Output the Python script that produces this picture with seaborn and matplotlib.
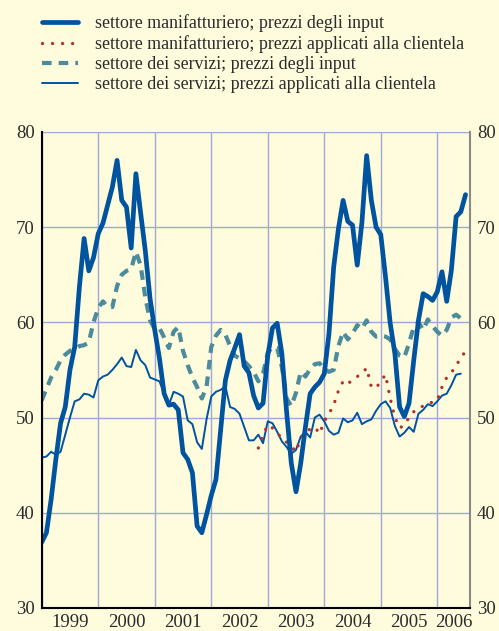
import numpy as np
import pandas as pd
import seaborn as sns
import matplotlib.pyplot as plt
from matplotlib.lines import Line2D

# monthly data, Jan 1999 - Jul 2006
mfg_input = [36.9, 37.9, 41.4, 45.6, 49.4, 51.1, 55.0, 57.4, 63.7, 68.8,
             65.4, 66.8, 69.3, 70.4, 72.3, 74.2, 77.0, 72.8, 72.1, 67.8,
             75.6, 71.5, 67.5, 62.5, 59.2, 56.2, 52.5, 51.3, 51.4, 50.8,
             46.3, 45.6, 44.2, 38.6, 37.9, 39.8, 41.8, 43.5, 48.7, 53.9,
             56.0, 57.3, 58.7, 55.4, 54.7, 52.3, 51.0, 51.5, 56.5, 59.4,
             59.9, 56.7, 50.6, 45.2, 42.2, 45.2, 49.0, 52.5, 53.2, 53.7,
             54.6, 58.8, 65.8, 69.8, 72.8, 70.6, 70.2, 66.0, 70.5, 77.5,
             72.8, 70.0, 69.2, 64.8, 59.9, 56.7, 51.1, 50.1, 51.5, 56.0,
             60.2, 63.0, 62.7, 62.3, 63.2, 65.3, 62.2, 65.5, 71.1, 71.6, 73.4]

mfg_output = [np.nan] * 46 + [
             46.8, 48.2, 49.2, 48.9, 48.4, 47.8, 47.4, 47.0, 46.4, 47.8,
             48.3, 48.8, 49.0, 48.3, 49.6, 50.4, 51.3, 52.8, 53.8, 53.5,
             54.0, 54.3, 54.6, 55.2, 53.2, 53.1, 53.8, 54.5, 52.0, 50.0,
             48.9, 49.2, 50.0, 50.6, 51.0, 51.2, 51.5, 51.6, 51.8, 53.2,
             54.2, 54.7, 55.5, 56.2, 57.0]

serv_input = [51.8, 53.0, 54.2, 55.0, 56.0, 56.6, 57.0, 57.2, 57.5, 57.6,
              57.9, 60.0, 61.5, 62.2, 61.6, 61.6, 63.8, 65.0, 65.4, 65.6,
              67.4, 66.0, 62.6, 60.2, 59.3, 59.4, 58.4, 57.3, 59.0, 59.5,
              57.0, 55.5, 54.2, 53.2, 52.0, 53.2, 57.4, 58.6, 59.2, 58.7,
              57.5, 56.5, 56.2, 55.9, 55.4, 54.8, 53.8, 54.6, 56.8, 57.4,
              57.3, 55.3, 52.0, 51.2, 52.6, 54.8, 54.3, 55.1, 55.6, 55.7,
              55.1, 54.8, 55.0, 57.5, 59.0, 58.2, 58.8, 59.7, 59.3, 60.2,
              59.0, 58.5, 58.6, 58.5, 58.2, 57.2, 56.5, 56.3, 57.8, 59.5,
              60.0, 59.2, 60.3, 59.6, 59.0, 58.6, 59.2, 60.5, 60.8, 60.4, np.nan]

serv_output = [45.8, 45.9, 46.4, 46.1, 46.4, 48.2, 50.0, 51.7, 51.9, 52.5,
               52.4, 52.1, 53.9, 54.3, 54.5, 55.0, 55.6, 56.3, 55.4, 55.3,
               57.1, 56.0, 55.5, 54.2, 54.0, 53.8, 52.5, 51.3, 52.7, 52.5,
               52.2, 49.7, 49.3, 47.4, 46.7, 49.8, 52.2, 52.7, 52.9, 53.3,
               51.1, 50.9, 50.4, 49.0, 47.6, 47.6, 48.2, 47.3, 49.6, 49.4,
               48.5, 47.5, 46.9, 46.2, 46.6, 48.0, 48.5, 47.9, 50.0, 50.3,
               49.6, 48.6, 48.2, 48.4, 49.9, 49.5, 49.7, 50.5, 49.3, 49.6,
               49.8, 50.7, 51.4, 51.7, 51.0, 49.1, 48.0, 48.4, 49.0, 48.5,
               50.4, 50.8, 51.4, 51.2, 51.7, 52.3, 52.5, 53.4, 54.5, 54.6, np.nan]

labels = ["settore manifatturiero; prezzi degli input",
          "settore manifatturiero; prezzi applicati alla clientela",
          "settore dei servizi; prezzi degli input",
          "settore dei servizi; prezzi applicati alla clientela"]
years = list(range(1999, 2007))

t = 1999 + np.arange(len(mfg_input)) / 12
df = pd.DataFrame({"t": t, "mi": mfg_input, "mo": mfg_output,
                   "si": serv_input, "so": serv_output})

sns.set_style("white")
plt.rcParams['font.family'] = ['Liberation Serif', 'DejaVu Serif']

bg = '#fefcdd'
blue = '#00539f'
teal = '#4b8b9b'
red = '#b3302b'
grid = '#9ea9d8'

fig = plt.figure(figsize=(4.99, 6.31), dpi=100, facecolor=bg)
ax = fig.add_axes([0.0836, 0.0365, 0.8584, 0.7546], facecolor=bg)

sns.lineplot(data=df, x="t", y="so", ax=ax, color=blue, lw=1.4)
sns.lineplot(data=df, x="t", y="mo", ax=ax, color=red, lw=2.4,
             linestyle=(0, (0.01, 3.0)), dash_capstyle='round')
sns.lineplot(data=df, x="t", y="si", ax=ax, color=teal, lw=3.0,
             linestyle=(0, (2.3, 1.7)))
sns.lineplot(data=df, x="t", y="mi", ax=ax, color=blue, lw=3.4)

ax.set_xlim(1999, 2006.58)
ax.set_ylim(30, 80)
ax.set_xlabel("")
ax.set_ylabel("")

ax.set_yticks(range(30, 81, 10))
ax.set_xticks(years)
ax.set_xticklabels([])
mids = [y + 0.5 for y in years[:-1]] + [2006.29]
ax.set_xticks(mids, minor=True)
ax.set_xticklabels([str(y) for y in years], minor=True)
ax.grid(True, which='major', color=grid, lw=1.0)
ax.set_axisbelow(True)

ax.tick_params(axis='x', which='major', direction='out', length=5, width=1.5, color='black')
ax.tick_params(axis='x', which='minor', length=0, pad=4, labelsize=13.5, labelcolor='#2b2b2b')
ax.tick_params(axis='y', length=0, labelsize=13.5, labelcolor='#2b2b2b',
               left=True, right=True, labelleft=True, labelright=True, pad=5)

ax.spines['top'].set_visible(False)
ax.spines['left'].set_color('black')
ax.spines['left'].set_linewidth(1.5)
ax.spines['bottom'].set_color('black')
ax.spines['bottom'].set_linewidth(1.5)
ax.spines['right'].set_color('#8a8a8a')
ax.spines['right'].set_linewidth(1.5)

handles = [Line2D([], [], color=blue, lw=3.4),
           Line2D([], [], color=red, lw=2.4, linestyle=(0, (0.01, 3.0)), dash_capstyle='round'),
           Line2D([], [], color=teal, lw=3.0, linestyle=(0, (2.3, 1.7))),
           Line2D([], [], color=blue, lw=1.4)]
fig.legend(handles, labels, loc='upper left', bbox_to_anchor=(0.0836, 0.977),
           frameon=False, fontsize=12.9, handlelength=2.05, handletextpad=0.9,
           labelspacing=0.17, borderpad=0, borderaxespad=0,
           labelcolor='#2b2b2b')

fig.savefig("out.png", dpi=100, facecolor=bg)
